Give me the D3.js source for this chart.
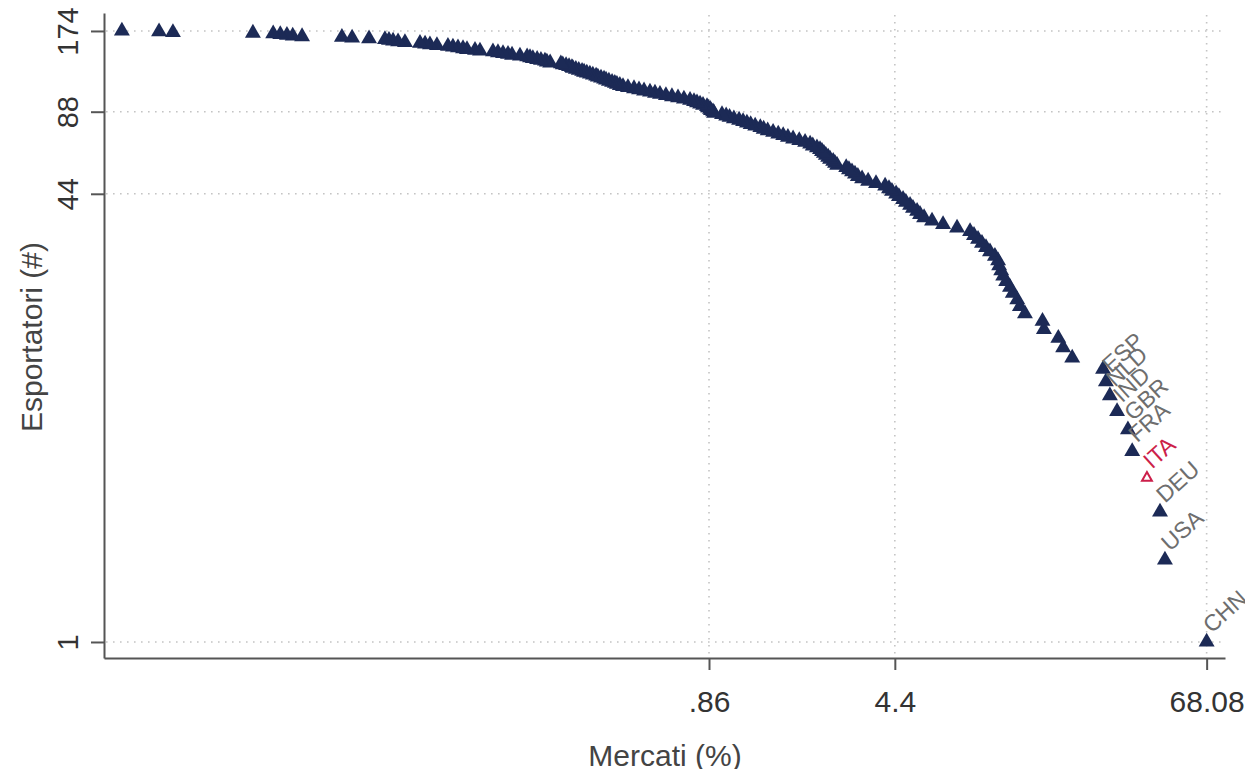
<!DOCTYPE html>
<html>
<head>
<meta charset="utf-8">
<script src="https://d3js.org/d3.v7.min.js"></script>
<style>
body { margin: 0; background: #fff; }
text { font-family: "Liberation Sans", Arial, Helvetica, sans-serif; }
</style>
</head>
<body>
<div id="chart"></div>
<script>

// market share (%) of each exporter, in rank order 1..174
var shares = [
  68.08, 47.2, 45.2, 40.3, 35.4, 34.1, 31.0, 29.1, 28.1, 27.4,
  20.9, 19.3, 18.5, 16.3, 16.1, 13.8, 13.2, 12.9, 12.4, 12.1,
  11.7, 11.4, 11.2, 11.0, 10.9, 10.6, 10.15, 9.8, 9.46, 9.14,
  8.82, 8.52, 7.60, 6.72, 6.10, 5.69, 5.49, 5.35, 5.16, 5.03,
  4.85, 4.73, 4.56, 4.45, 4.29, 4.18, 4.04, 3.73, 3.48, 3.30,
  3.18, 3.10, 3.02, 2.94, 2.87, 2.65, 2.60, 2.56, 2.49, 2.45,
  2.40, 2.36, 2.32, 2.28, 2.22, 2.14, 2.09, 2.00, 1.90, 1.80,
  1.72, 1.65, 1.58, 1.51, 1.44, 1.39, 1.35, 1.29, 1.24, 1.20,
  1.16, 1.12, 1.07, 1.03, 1.00, 0.964, 0.899, 0.891, 0.875, 0.868,
  0.852, 0.845, 0.816, 0.795, 0.774, 0.754, 0.728, 0.690, 0.655, 0.621,
  0.589, 0.559, 0.535, 0.512, 0.486, 0.465, 0.445, 0.422, 0.404, 0.393,
  0.383, 0.376, 0.367, 0.357, 0.348, 0.342, 0.333, 0.324, 0.319, 0.310,
  0.302, 0.294, 0.287, 0.282, 0.274, 0.267, 0.260, 0.258, 0.2515, 0.245,
  0.238, 0.234, 0.213, 0.207, 0.2035, 0.1965, 0.190, 0.183, 0.1785, 0.174,
  0.1634, 0.1524, 0.1471, 0.1408, 0.1347, 0.1289, 0.1150, 0.1101, 0.1026, 0.0991,
  0.0948, 0.0907, 0.0868, 0.0788, 0.0741, 0.0710, 0.0679, 0.0595, 0.0560, 0.0536,
  0.0517, 0.0499, 0.0434, 0.0374, 0.0342, 0.0241, 0.0222, 0.0211, 0.0199, 0.0187,
  0.01565, 0.00775, 0.00686, 0.00495
];

// labels for the top ranks (rank 1 first)
var countries = ["CHN", "USA", "DEU", "ITA", "FRA", "GBR", "IND", "NLD", "ESP"];
var highlighted = "ITA";

var xTicks = [0.86, 4.4, 68.08];
var xTickLabels = [".86", "4.4", "68.08"];
var yTicks = [1, 44, 88, 174];

var width = 1245, height = 769;
var margin = {top: 13, right: 20, bottom: 111, left: 104};

var data = shares.map(function(s, i) {
  return {share: s, rank: i + 1, name: countries[i] || null};
});

var svg = d3.select("#chart")
  .append("svg")
  .attr("width", width)
  .attr("height", height)
  .style("overflow", "hidden");

var x = d3.scaleLog()
  .domain([0.00423, 80])
  .range([margin.left, width - margin.right]);

var y = d3.scaleLog()
  .domain([0.8735, 202.5])
  .range([height - margin.bottom, margin.top]);

var gridColor = "#c4c4c4";
var axisColor = "#555";

// gridlines
svg.append("g")
  .selectAll("line")
  .data(yTicks)
  .join("line")
    .attr("x1", margin.left + 2)
    .attr("x2", width - margin.right)
    .attr("y1", d => y(d))
    .attr("y2", d => y(d))
    .attr("stroke", gridColor)
    .attr("stroke-width", 1.6)
    .attr("stroke-dasharray", "1.6,5.4");

svg.append("g")
  .selectAll("line")
  .data(xTicks)
  .join("line")
    .attr("x1", d => x(d))
    .attr("x2", d => x(d))
    .attr("y1", margin.top + 2)
    .attr("y2", height - margin.bottom)
    .attr("stroke", gridColor)
    .attr("stroke-width", 1.6)
    .attr("stroke-dasharray", "1.6,5.4");

// x axis
var xAxis = svg.append("g")
  .attr("transform", "translate(0," + (height - margin.bottom) + ")")
  .call(d3.axisBottom(x)
    .tickValues(xTicks)
    .tickFormat((d, i) => xTickLabels[i])
    .tickSize(12)
    .tickSizeOuter(0));

xAxis.select(".domain").attr("stroke", axisColor).attr("stroke-width", 2);
xAxis.selectAll(".tick line").attr("stroke", axisColor).attr("stroke-width", 2);
xAxis.selectAll(".tick text")
  .attr("y", 54)
  .attr("dy", 0)
  .attr("fill", "#333")
  .style("font-size", "30px");

// y axis
var yAxis = svg.append("g")
  .attr("transform", "translate(" + margin.left + ",0)")
  .call(d3.axisLeft(y)
    .tickValues(yTicks)
    .tickFormat(d3.format("d"))
    .tickSize(13)
    .tickSizeOuter(0));

yAxis.select(".domain").attr("stroke", axisColor).attr("stroke-width", 2);
yAxis.selectAll(".tick line").attr("stroke", axisColor).attr("stroke-width", 2);
yAxis.selectAll(".tick text")
  .attr("transform", "rotate(-90)")
  .attr("x", 0)
  .attr("y", -26)
  .attr("dy", 0)
  .attr("fill", "#333")
  .style("text-anchor", "middle")
  .style("font-size", "29px");

// axis titles
svg.append("text")
  .attr("x", 665)
  .attr("y", 766)
  .attr("text-anchor", "middle")
  .attr("fill", "#444")
  .style("font-size", "30px")
  .text("Mercati (%)");

svg.append("text")
  .attr("transform", "translate(42,337) rotate(-90)")
  .attr("text-anchor", "middle")
  .attr("fill", "#444")
  .style("font-size", "30px")
  .text("Esportatori (#)");

// markers
var tri = d3.symbol().type(d3.symbolTriangle);

svg.append("g")
  .selectAll("path")
  .data(data.filter(d => d.name !== highlighted))
  .join("path")
    .attr("transform", d => "translate(" + x(d.share) + "," + y(d.rank) + ")")
    .attr("d", tri.size(110)())
    .attr("fill", "#1c2a56");

svg.append("g")
  .selectAll("path")
  .data(data.filter(d => d.name === highlighted))
  .join("path")
    .attr("transform", d => "translate(" + x(d.share) + "," + y(d.rank) + ")")
    .attr("d", tri.size(42)())
    .attr("fill", "none")
    .attr("stroke", "#cc1f4a")
    .attr("stroke-width", 2);

// country labels
svg.append("g")
  .selectAll("text")
  .data(data.filter(d => d.name))
  .join("text")
    .attr("transform", d => "translate(" + (x(d.share) + 5) + "," + (y(d.rank) - 8) + ") rotate(-42)")
    .attr("fill", d => d.name === highlighted ? "#cc1f4a" : "#6e6e6e")
    .style("font-size", "23px")
    .text(d => d.name);

</script>
</body>
</html>
